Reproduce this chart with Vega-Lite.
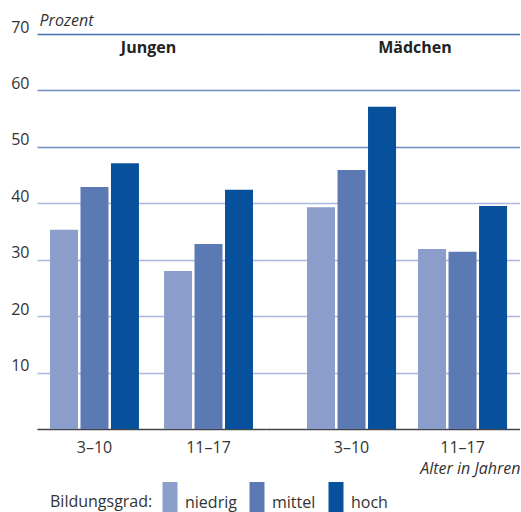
{
  "$schema": "https://vega.github.io/schema/vega-lite/v6.json",
  "padding": {"left": 10, "top": 12, "right": 0, "bottom": 0},
  "data": {"values": [
    {"geschlecht": "Jungen", "alter": "3–10", "bildung": "niedrig", "prozent": 35.3},
    {"geschlecht": "Jungen", "alter": "3–10", "bildung": "mittel", "prozent": 42.9},
    {"geschlecht": "Jungen", "alter": "3–10", "bildung": "hoch", "prozent": 47.1},
    {"geschlecht": "Jungen", "alter": "11–17", "bildung": "niedrig", "prozent": 28.0},
    {"geschlecht": "Jungen", "alter": "11–17", "bildung": "mittel", "prozent": 32.8},
    {"geschlecht": "Jungen", "alter": "11–17", "bildung": "hoch", "prozent": 42.4},
    {"geschlecht": "Mädchen", "alter": "3–10", "bildung": "niedrig", "prozent": 39.3},
    {"geschlecht": "Mädchen", "alter": "3–10", "bildung": "mittel", "prozent": 45.9},
    {"geschlecht": "Mädchen", "alter": "3–10", "bildung": "hoch", "prozent": 57.1},
    {"geschlecht": "Mädchen", "alter": "11–17", "bildung": "niedrig", "prozent": 31.9},
    {"geschlecht": "Mädchen", "alter": "11–17", "bildung": "mittel", "prozent": 31.4},
    {"geschlecht": "Mädchen", "alter": "11–17", "bildung": "hoch", "prozent": 39.5}
  ]},
  "spacing": 0,
  "hconcat": [
    {
      "width": 229,
      "height": 395,
      "transform": [{"filter": "datum.geschlecht == 'Jungen'"}],
      "title": {"text": "Jungen", "fontSize": 16, "fontWeight": "bold", "color": "#222222", "baseline": "alphabetic", "dx": -3, "dy": 61},
      "mark": {"type": "bar"},
      "encoding": {
        "x": {"field": "alter", "type": "nominal", "sort": ["3–10", "11–17"],
          "scale": {"paddingInner": 0.22, "paddingOuter": 0.114},
          "axis": {"title": null, "labelAngle": 0, "ticks": false, "domainColor": "#444444", "domainWidth": 1.5, "labelPadding": 10, "labelFontSize": 16, "labelColor": "#333333"}},
        "xOffset": {"field": "bildung", "type": "nominal", "sort": ["niedrig", "mittel", "hoch"], "scale": {"paddingInner": 0.082}},
        "y": {"field": "prozent", "type": "quantitative", "scale": {"domain": [0, 70]},
          "axis": {"values": [10, 20, 30, 40, 50, 60, 70], "ticks": false, "domain": false, "labelPadding": 8, "labelFontSize": 16, "labelColor": "#333333", "labelBaseline": "alphabetic", "labelOffset": -2,
            "gridWidth": 1.5,
            "gridColor": {"condition": [{"test": "datum.value >= 70", "value": "#4470ad"}, {"test": "datum.value >= 50", "value": "#6e8cc2"}], "value": "#a9b8e0"},
            "title": "Prozent", "titleAngle": 0, "titleAlign": "left", "titleBaseline": "alphabetic", "titleX": 2, "titleY": -9, "titleFontStyle": "italic", "titleFontWeight": "normal", "titleFontSize": 16, "titleColor": "#333333"}},
        "color": {"field": "bildung", "type": "nominal", "sort": ["niedrig", "mittel", "hoch"],
          "scale": {"domain": ["niedrig", "mittel", "hoch"], "range": ["#8b9dcb", "#5b79b3", "#07509c"]},
          "legend": {"title": "Bildungsgrad:", "orient": "bottom", "direction": "horizontal", "titleOrient": "left", "titleAnchor": "middle", "titleBaseline": "bottom", "titleFontSize": 16, "titleFontWeight": "normal", "titleColor": "#333333", "titlePadding": 9, "labelFontSize": 16, "labelColor": "#333333", "labelOffset": 7, "columnPadding": 12, "symbolType": "M-1,-2.8H1V2.8H-1Z", "symbolSize": 225, "symbolStrokeWidth": 0, "symbolOpacity": 1, "padding": 13, "offset": 6}}
      }
    },
    {
      "width": 254,
      "height": 395,
      "transform": [{"filter": "datum.geschlecht == 'Mädchen'"}],
      "title": {"text": "Mädchen", "fontSize": 16, "fontWeight": "bold", "color": "#222222", "baseline": "alphabetic", "dx": 22, "dy": 39},
      "mark": {"type": "bar"},
      "encoding": {
        "x": {"field": "alter", "type": "nominal", "sort": ["3–10", "11–17"],
          "scale": {"paddingInner": 0.198, "paddingOuter": 0.243, "align": 0.76},
          "axis": {"title": "Alter in Jahren", "titleAnchor": "end", "titleFontStyle": "italic", "titleFontWeight": "normal", "titleFontSize": 16, "titleColor": "#333333", "titlePadding": 5, "labelAngle": 0, "ticks": false, "domainColor": "#444444", "domainWidth": 1.5, "labelPadding": 10, "labelFontSize": 16, "labelColor": "#333333"}},
        "xOffset": {"field": "bildung", "type": "nominal", "sort": ["niedrig", "mittel", "hoch"], "scale": {"paddingInner": 0.082}},
        "y": {"field": "prozent", "type": "quantitative", "scale": {"domain": [0, 70]},
          "axis": {"values": [10, 20, 30, 40, 50, 60, 70], "ticks": false, "domain": false, "labels": false, "title": null,
            "gridWidth": 1.5,
            "gridColor": {"condition": [{"test": "datum.value >= 70", "value": "#4470ad"}, {"test": "datum.value >= 50", "value": "#6e8cc2"}], "value": "#a9b8e0"}}},
        "color": {"field": "bildung", "type": "nominal", "sort": ["niedrig", "mittel", "hoch"],
          "scale": {"domain": ["niedrig", "mittel", "hoch"], "range": ["#8b9dcb", "#5b79b3", "#07509c"]}}
      }
    }
  ],
  "resolve": {"scale": {"x": "independent", "xOffset": "independent"}},
  "config": {
    "view": {"stroke": null},
    "font": "Open Sans",
    "axis": {"labelFont": "Open Sans", "titleFont": "Open Sans"},
    "legend": {"labelFont": "Open Sans", "titleFont": "Open Sans"}
  }
}
